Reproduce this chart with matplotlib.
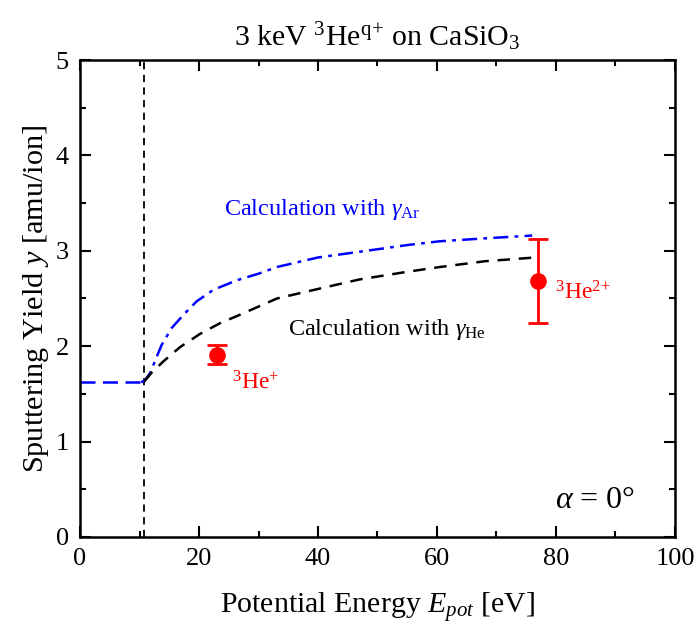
import matplotlib
matplotlib.use("Agg")
import matplotlib.pyplot as plt
from matplotlib.ticker import MultipleLocator

plt.rcParams['font.family'] = ['Liberation Serif', 'DejaVu Serif']
plt.rcParams['mathtext.fontset'] = 'custom'
plt.rcParams['mathtext.rm'] = 'Liberation Serif'
plt.rcParams['mathtext.it'] = 'Liberation Serif:italic'

# flat part below threshold
flat_e = [0, 10.3]
flat_y = [1.62, 1.62]

# calculation with gamma_Ar (blue dash-dot)
ar_e = [10.3, 11.0, 11.8, 12.7, 13.7, 15.4, 17.4, 19.6, 22.4, 26.3, 30.0, 33.1, 40.0, 47.0, 55.0, 60.5, 68.0, 76.0]
ar_y = [1.62, 1.65, 1.72, 1.86, 2.01, 2.19, 2.33, 2.47, 2.59, 2.69, 2.76, 2.83, 2.93, 2.99, 3.06, 3.10, 3.13, 3.16]

# calculation with gamma_He (black dashed)
he_e = [10.8, 12.0, 14.0, 16.8, 20.2, 23.5, 26.9, 33.1, 40.0, 47.0, 55.0, 60.5, 68.0, 76.5]
he_y = [1.63, 1.72, 1.84, 1.99, 2.13, 2.24, 2.33, 2.50, 2.60, 2.70, 2.78, 2.83, 2.89, 2.93]

# measurements
meas_e = [23.0, 77.0]
meas_y = [1.91, 2.68]
meas_err = [0.10, 0.44]
meas_lab = [r"$^{3}$He$^{+}$", r"$^{3}$He$^{2}$$^{+}$"]

threshold = 10.8

fig = plt.figure(figsize=(6.97, 6.33), dpi=100)
ax = fig.add_axes([0.1148, 0.1517, 0.8536, 0.7535])

ax.axvline(threshold, color='black', ls=(0, (4, 3)), lw=1.3)
ax.plot(flat_e, flat_y, color='blue', ls=(0, (6, 3)), lw=1.8)
ax.plot(ar_e, ar_y, color='blue', ls=(0, (6, 2.5, 1.5, 2.5)), lw=1.8)
ax.plot(he_e, he_y, color='black', ls=(0, (5, 3.5)), lw=1.8)
ax.errorbar(meas_e, meas_y, yerr=meas_err, fmt='o', color='red', ms=11,
            elinewidth=2, capsize=7.5, capthick=2)

ax.text(25.6, 1.61, meas_lab[0], color='red', fontsize=17, ha='left', va='center')
ax.text(79.8, 2.56, meas_lab[1], color='red', fontsize=17, ha='left', va='center')
ax.text(24.2, 3.43, r"Calculation with $\gamma_{\mathrm{Ar}}$", color='blue', fontsize=17.5, ha='left', va='center')
ax.text(35.0, 2.18, r"Calculation with $\gamma_{\mathrm{He}}$", color='black', fontsize=17.5, ha='left', va='center')
ax.text(93.3, 0.38, r"$\alpha$ = 0°", color='black', fontsize=23, ha='right', va='center')

ax.set_xlim(0, 100)
ax.set_ylim(0, 5)
ax.xaxis.set_major_locator(MultipleLocator(20))
ax.xaxis.set_minor_locator(MultipleLocator(10))
ax.yaxis.set_major_locator(MultipleLocator(1))
ax.yaxis.set_minor_locator(MultipleLocator(0.5))
ax.tick_params(which='both', direction='in', top=True, right=True, width=1.5, labelsize=19)
ax.tick_params(which='major', length=8, pad=8)
ax.tick_params(which='minor', length=4.5)
for s in ax.spines.values():
    s.set_linewidth(1.8)

ax.set_xlabel(r"Potential Energy $E_{pot}$ [eV]", fontsize=21.5, labelpad=14)
ax.set_ylabel(r"Sputtering Yield $y$ [amu/ion]", fontsize=21.8, labelpad=3)
ax.set_title(r"3 keV $^{3}$He$^{\mathrm{q}}$$^{+}$ on CaSiO$_{3}$", fontsize=21.5, pad=10)

fig.savefig("out.png", dpi=100)
